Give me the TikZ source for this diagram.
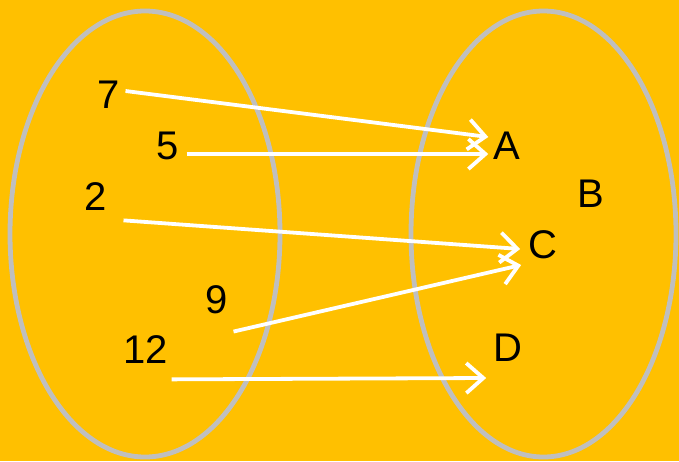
\documentclass[tikz,border=0pt]{standalone}
\usepackage{fontspec}
\setmainfont{Liberation Sans}
\usetikzlibrary{arrows.meta,shapes.geometric}
\definecolor{BackColor}{RGB}{255,192,0}
\definecolor{SetColor}{RGB}{191,191,191}
\tikzset{
  setoval/.style={ellipse, draw=SetColor, line width=2.4pt, inner sep=0pt},
  elem/.style={inner sep=2.5pt, font=\fontsize{20}{24}\selectfont},
  mapto/.style={->, white, line width=1.9pt},
}

\begin{document}
\begin{tikzpicture}[x=0.5pt, y=-0.5pt, >={Straight Barb[length=8.5pt, width=15pt]}]
      \fill[BackColor] (0,0) rectangle (679,461);
      \useasboundingbox (0,0) rectangle (679,461);

      \node[setoval, minimum width=135pt, minimum height=223pt] (dom) at (145,234) {};
      \node[setoval, minimum width=132.5pt, minimum height=223pt] (cod) at (543.5,234) {};

      \node[elem] (n7) at (109,95) {7};
      \node[elem] (n5) at (168,146) {5};
      \node[elem] (n2) at (96,197) {2};
      \node[elem] (n9) at (217,300) {9};
      \node[elem] (n12) at (146,350) {12};
      \node[elem] (A) at (507,146) {A};
      \node[elem] (B) at (591,194) {B};
      \node[elem] (C) at (543,245) {C};
      \node[elem] (D) at (508,348) {D};

      \draw[mapto] ([yshift=2pt]n7.east) -- ([yshift=4.5pt]A.west);
      \draw[mapto] ([xshift=1pt, yshift=-4pt]n5.east) -- ([yshift=-4pt]A.west);
      \draw[mapto] ([xshift=5.5pt, yshift=-2pt]n2.south east) -- ([xshift=-1.5pt, yshift=-2pt]C.west);
      \draw[mapto] ([yshift=-6pt]n9.south east) -- ([xshift=-1pt, yshift=-10pt]C.west);
      \draw[mapto] ([xshift=-1pt, yshift=-5pt]n12.south east) -- ([xshift=-1pt, yshift=-15pt]D.west);
    \end{tikzpicture}
\end{document}
